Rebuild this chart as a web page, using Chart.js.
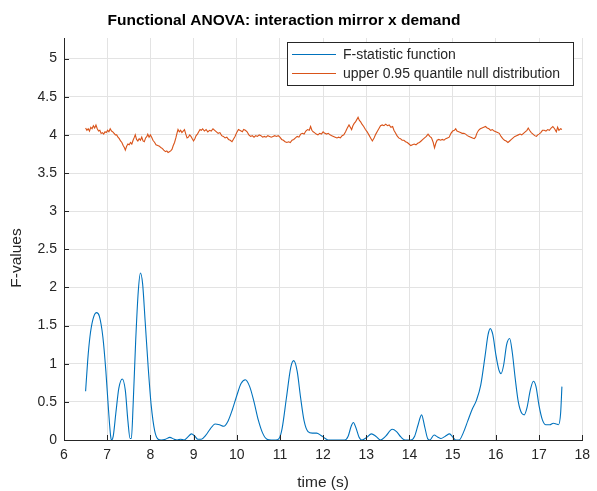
<!DOCTYPE html>
<html>
<head>
<meta charset="utf-8">
<script src="https://cdn.jsdelivr.net/npm/chart.js@4.4.0/dist/chart.umd.min.js"></script>
<style>
  html, body { margin: 0; padding: 0; background: #fff; }
  canvas { display: block; }
</style>
</head>
<body>
<canvas id="anova" width="597" height="491"></canvas>
<script>
// F-statistic function over time
const fTime = [6.5, 6.55, 6.6, 6.67, 6.75, 6.82, 6.9, 6.97, 7.03, 7.08, 7.1, 7.14, 7.2, 7.27, 7.35, 7.42, 7.48, 7.53, 7.56, 7.6,
  7.66, 7.72, 7.77, 7.82, 7.88, 7.95, 8.02, 8.1, 8.18, 8.25, 8.35, 8.45, 8.55, 8.62, 8.7, 8.78, 8.87, 8.95, 9.03, 9.1,
  9.18, 9.28, 9.38, 9.5, 9.6, 9.7, 9.8, 9.9, 10.0, 10.1, 10.2, 10.3, 10.4, 10.5, 10.6, 10.7, 10.8, 10.9, 10.98, 11.05,
  11.15, 11.25, 11.32, 11.4, 11.48, 11.56, 11.65, 11.75, 11.85, 11.95, 12.05, 12.12, 12.5, 12.58, 12.65, 12.7, 12.76, 12.83, 12.9, 13.0,
  13.12, 13.22, 13.33, 13.45, 13.6, 13.7, 13.8, 13.9, 14.03, 14.12, 14.2, 14.28, 14.35, 14.42, 14.47, 14.57, 14.65, 14.73, 14.83, 14.93,
  15.0, 15.07, 15.15, 15.25, 15.35, 15.45, 15.55, 15.65, 15.75, 15.82, 15.87, 15.93, 16.0, 16.07, 16.12, 16.18, 16.25, 16.32, 16.38, 16.45,
  16.52, 16.6, 16.66, 16.72, 16.8, 16.87, 16.93, 17.0, 17.08, 17.16, 17.25, 17.33, 17.4, 17.45, 17.5, 17.53];
const fStat = [0.64, 1.05, 1.35, 1.58, 1.67, 1.62, 1.35, 0.9, 0.4, 0.05, 0, 0.05, 0.35, 0.68, 0.8, 0.65, 0.25, 0.02, 0.02, 0.45,
  1.3, 1.95, 2.19, 2.05, 1.55, 0.95, 0.45, 0.12, 0.01, 0, 0.01, 0.035, 0.01, 0, 0.01, 0, 0.04, 0.08, 0.05, 0.01,
  0.01, 0.06, 0.14, 0.21, 0.2, 0.18, 0.25, 0.4, 0.58, 0.74, 0.79, 0.7, 0.5, 0.26, 0.09, 0.01, 0, 0, 0.02, 0.15,
  0.55, 0.95, 1.04, 0.9, 0.55, 0.25, 0.11, 0.09, 0.09, 0.06, 0.02, 0, 0, 0.05, 0.18, 0.23, 0.16, 0.04, 0, 0.03,
  0.08, 0.05, 0, 0.05, 0.14, 0.11, 0.04, 0, 0, 0.05, 0.2, 0.33, 0.18, 0.02, 0, 0.065, 0.04, 0.02, 0.05, 0.08,
  0.04, 0, 0, 0.1, 0.25, 0.4, 0.52, 0.72, 1.1, 1.38, 1.46, 1.38, 1.12, 0.92, 0.87, 0.98, 1.25, 1.33, 1.15, 0.8,
  0.5, 0.35, 0.33, 0.42, 0.66, 0.77, 0.7, 0.45, 0.26, 0.2, 0.2, 0.22, 0.21, 0.2, 0.35, 0.7];

// upper 0.95 quantile of the null distribution
const qTime = [6.5, 6.53, 6.56, 6.59, 6.62, 6.65, 6.68, 6.71, 6.74, 6.77, 6.8, 6.83, 6.86, 6.89, 6.92, 6.95, 6.98, 7.01, 7.04, 7.07,
  7.1, 7.13, 7.16, 7.19, 7.22, 7.25, 7.28, 7.31, 7.34, 7.37, 7.4, 7.42, 7.45, 7.48, 7.51, 7.54, 7.57, 7.6, 7.63, 7.65,
  7.68, 7.71, 7.74, 7.77, 7.8, 7.83, 7.86, 7.89, 7.92, 7.94, 7.97, 8.0, 8.03, 8.06, 8.1, 8.13, 8.17, 8.21, 8.25, 8.28,
  8.31, 8.35, 8.38, 8.41, 8.44, 8.47, 8.5, 8.53, 8.56, 8.59, 8.62, 8.64, 8.67, 8.7, 8.73, 8.76, 8.79, 8.82, 8.85, 8.88,
  8.91, 8.94, 8.97, 9.0, 9.03, 9.06, 9.09, 9.12, 9.15, 9.18, 9.21, 9.25, 9.29, 9.33, 9.37, 9.41, 9.45, 9.49, 9.53, 9.57,
  9.61, 9.65, 9.69, 9.73, 9.77, 9.81, 9.85, 9.89, 9.92, 9.96, 10.0, 10.04, 10.07, 10.1, 10.13, 10.16, 10.2, 10.24, 10.28, 10.32,
  10.36, 10.4, 10.44, 10.48, 10.52, 10.56, 10.6, 10.64, 10.68, 10.72, 10.76, 10.8, 10.84, 10.88, 10.92, 10.96, 11.0, 11.04, 11.08, 11.12,
  11.16, 11.2, 11.24, 11.28, 11.32, 11.36, 11.4, 11.44, 11.48, 11.52, 11.56, 11.6, 11.64, 11.68, 11.71, 11.74, 11.77, 11.8, 11.84, 11.88,
  11.92, 11.96, 12.0, 12.04, 12.08, 12.12, 12.16, 12.2, 12.24, 12.28, 12.32, 12.36, 12.4, 12.44, 12.48, 12.52, 12.56, 12.6, 12.63, 12.66,
  12.69, 12.72, 12.75, 12.78, 12.81, 12.84, 12.87, 12.9, 12.94, 12.98, 13.02, 13.06, 13.1, 13.14, 13.18, 13.22, 13.26, 13.3, 13.33, 13.37,
  13.41, 13.45, 13.49, 13.53, 13.57, 13.61, 13.64, 13.67, 13.71, 13.75, 13.79, 13.83, 13.87, 13.91, 13.95, 13.99, 14.03, 14.07, 14.11, 14.15,
  14.19, 14.23, 14.27, 14.31, 14.35, 14.39, 14.43, 14.47, 14.51, 14.55, 14.58, 14.61, 14.64, 14.68, 14.72, 14.76, 14.8, 14.84, 14.88, 14.92,
  14.96, 15.0, 15.04, 15.07, 15.1, 15.14, 15.18, 15.22, 15.26, 15.3, 15.34, 15.38, 15.42, 15.46, 15.5, 15.53, 15.56, 15.6, 15.64, 15.68,
  15.72, 15.76, 15.8, 15.84, 15.88, 15.92, 15.96, 16.0, 16.04, 16.08, 16.12, 16.16, 16.2, 16.24, 16.28, 16.32, 16.36, 16.4, 16.44, 16.48,
  16.52, 16.56, 16.6, 16.64, 16.68, 16.72, 16.75, 16.78, 16.82, 16.86, 16.9, 16.94, 16.97, 17.0, 17.04, 17.08, 17.12, 17.16, 17.2, 17.24,
  17.28, 17.32, 17.36, 17.4, 17.43, 17.46, 17.5, 17.53];
const q95 = [4.09, 4.06, 4.08, 4.05, 4.1, 4.08, 4.12, 4.09, 4.13, 4.08, 4.05, 4.06, 4.02, 4.03, 4.01, 4.04, 4.03, 4.06, 4.04, 4.08,
  4.05, 4.04, 4.02, 4.0, 4.0, 3.97, 3.95, 3.92, 3.9, 3.86, 3.83, 3.8, 3.85, 3.88, 3.87, 3.9, 3.88, 3.93, 3.97, 4.0,
  3.94, 3.92, 3.95, 3.93, 3.97, 3.92, 3.91, 3.96, 3.98, 4.01, 3.97, 4.0, 3.97, 3.93, 3.9, 3.87, 3.86, 3.85, 3.83, 3.82,
  3.8, 3.78, 3.79, 3.77, 3.78, 3.79, 3.81, 3.86, 3.9, 3.96, 4.03, 4.07, 4.04, 4.06, 4.03, 4.05, 4.07, 4.01, 3.96, 3.97,
  4.0, 3.98, 3.95, 3.92, 3.95, 3.99, 4.01, 4.04, 4.07, 4.06, 4.08, 4.05, 4.07, 4.04, 4.06, 4.05, 4.08, 4.06, 4.04, 4.02,
  4.03, 3.99, 3.98, 3.96, 3.97, 3.94, 3.93, 3.91, 3.94, 3.98, 4.03, 4.07, 4.06, 4.05, 4.04, 4.07, 4.06, 4.04, 4.0, 3.98,
  3.99, 3.97, 3.99, 3.98, 4.0, 3.99, 3.97, 3.98, 3.97, 3.99, 3.98, 3.97, 3.98, 3.99, 3.98, 3.99, 3.97, 3.94, 3.93, 3.91,
  3.9, 3.91, 3.9, 3.93, 3.94, 3.96, 3.98, 3.97, 4.01, 4.02, 4.01, 4.05, 4.07, 4.06, 4.11, 4.06, 4.04, 4.03, 4.01, 4.0,
  4.02, 4.01, 4.04, 4.02, 4.01, 4.02, 4.0, 3.99, 3.98, 3.97, 3.96, 3.97, 3.96, 3.99, 4.0, 4.04, 4.09, 4.13, 4.1, 4.07,
  4.12, 4.15, 4.17, 4.2, 4.23, 4.19, 4.17, 4.14, 4.11, 4.07, 4.04, 4.0, 3.96, 3.92, 3.96, 4.01, 4.05, 4.09, 4.12, 4.13,
  4.12, 4.14, 4.12, 4.13, 4.1, 4.11, 4.06, 4.03, 3.99, 3.96, 3.95, 3.93, 3.93, 3.91, 3.9, 3.88, 3.86, 3.87, 3.88, 3.87,
  3.89, 3.9, 3.92, 3.94, 3.96, 3.98, 4.01, 3.98, 3.96, 3.9, 3.83, 3.89, 3.93, 3.94, 3.93, 3.94, 3.93, 3.95, 3.96, 3.97,
  4.02, 4.05, 4.06, 4.08, 4.05, 4.04, 4.03, 4.02, 4.02, 4.01, 3.99, 3.98, 3.97, 3.96, 3.95, 3.97, 4.02, 4.06, 4.08, 4.09,
  4.1, 4.11, 4.09, 4.08, 4.06, 4.07, 4.05, 4.04, 4.03, 4.02, 3.98, 3.95, 3.93, 3.92, 3.9, 3.92, 3.94, 3.96, 3.98, 3.99,
  4.0, 4.01, 4.0, 4.02, 4.04, 4.06, 4.09, 4.06, 4.03, 4.01, 3.99, 3.98, 4.0, 4.01, 4.03, 4.06, 4.06, 4.05, 4.07, 4.06,
  4.09, 4.11, 4.08, 4.04, 4.1, 4.06, 4.08, 4.07];

const yTicks = [0, 0.5, 1, 1.5, 2, 2.5, 3, 3.5, 4, 4.5, 5];

const FONT = '"Liberation Sans", Arial, Helvetica, sans-serif';
const INK = '#262626';

function toPoints(xs, ys) {
    return xs.map((x, i) => ({x: x, y: ys[i]}));
}

// title, axis labels, inward ticks and legend box in matlab style
const figureDecor = {
    id: 'figureDecor',
    afterDraw(chart) {
        const c = chart.ctx;
        const area = chart.chartArea;
        const xs = chart.scales.x;
        const ys = chart.scales.y;
        c.save();

        // inward tick marks
        c.strokeStyle = INK;
        c.lineWidth = 1;
        c.beginPath();
        xs.ticks.forEach(t => {
            const px = Math.round(xs.getPixelForValue(t.value)) + 0.5;
            c.moveTo(px, area.bottom);
            c.lineTo(px, area.bottom - 5);
        });
        ys.ticks.forEach(t => {
            const py = Math.round(ys.getPixelForValue(t.value)) + 0.5;
            c.moveTo(area.left, py);
            c.lineTo(area.left + 5, py);
        });
        c.stroke();

        c.fillStyle = '#000';
        c.textAlign = 'center';
        c.textBaseline = 'alphabetic';
        c.font = 'bold 15.5px ' + FONT;
        c.fillText('Functional ANOVA: interaction mirror x demand', 284, 25);

        c.fillStyle = INK;
        c.font = '15.5px ' + FONT;
        c.fillText('time (s)', (area.left + area.right) / 2, 487);

        c.save();
        c.translate(21, 258);
        c.rotate(-Math.PI / 2);
        c.fillText('F-values', 0, 0);
        c.restore();

        // legend
        const lx = 287.5, ly = 42.5, lw = 286, lh = 43;
        c.fillStyle = '#fff';
        c.fillRect(lx, ly, lw, lh);
        c.strokeStyle = INK;
        c.strokeRect(lx, ly, lw, lh);
        c.font = '14px ' + FONT;
        c.textAlign = 'left';
        c.textBaseline = 'middle';
        chart.data.datasets.forEach((ds, i) => {
            const rowY = 54 + i * 19;
            c.strokeStyle = ds.borderColor;
            c.beginPath();
            c.moveTo(292, rowY + 0.5);
            c.lineTo(336, rowY + 0.5);
            c.stroke();
            c.fillStyle = INK;
            c.fillText(ds.label, 343, rowY + 1);
        });
        c.restore();
    }
};

new Chart(document.getElementById('anova'), {
    type: 'line',
    data: {
        datasets: [
            {
                label: 'F-statistic function',
                data: toPoints(fTime, fStat),
                borderColor: '#0072BD',
                borderWidth: 1.1,
                pointRadius: 0,
                cubicInterpolationMode: 'monotone'
            },
            {
                label: 'upper 0.95 quantile null distribution',
                data: toPoints(qTime, q95),
                borderColor: '#D95319',
                borderWidth: 1.1,
                pointRadius: 0,
                tension: 0
            }
        ]
    },
    options: {
        responsive: false,
        animation: false,
        layout: {
            padding: {left: 0, right: 13, top: 38, bottom: 0}
        },
        plugins: {
            legend: {display: false},
            tooltip: {enabled: false}
        },
        scales: {
            x: {
                type: 'linear',
                min: 6,
                max: 18,
                afterFit(scale) { scale.height = 51; },
                ticks: {
                    stepSize: 1,
                    padding: 7,
                    color: INK,
                    font: {family: FONT, size: 14},
                    maxRotation: 0
                },
                grid: {color: '#e3e3e3', drawTicks: false},
                border: {color: INK, width: 1}
            },
            y: {
                type: 'linear',
                min: 0,
                max: 5.27,
                afterFit(scale) { scale.width = 64; },
                afterBuildTicks(scale) {
                    scale.ticks = yTicks.map(v => ({value: v}));
                },
                ticks: {
                    padding: 7,
                    color: INK,
                    font: {family: FONT, size: 14},
                    callback: v => String(v)
                },
                grid: {color: '#e3e3e3', drawTicks: false},
                border: {color: INK, width: 1}
            }
        }
    },
    plugins: [figureDecor]
});
</script>
</body>
</html>
